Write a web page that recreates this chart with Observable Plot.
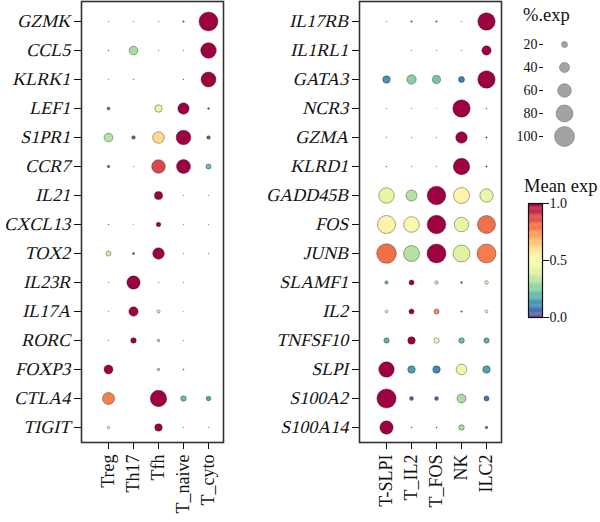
<!DOCTYPE html>
<html><head><meta charset="utf-8">
<script src="https://cdn.jsdelivr.net/npm/d3@7"></script>
<script src="https://cdn.jsdelivr.net/npm/@observablehq/plot@0.6"></script>
<style>
body{margin:0;background:#fff;}
#root{position:relative;width:600px;height:522px;overflow:hidden;font-family:"Liberation Serif",serif;color:#111;}
.pane{position:absolute;}
.title{position:absolute;font-size:18.5px;line-height:1;white-space:nowrap;color:#111;font-family:"Liberation Serif",serif;}
</style></head><body><div id="root"></div>
<script>
// ---- Left panel ----
const leftGenes = ["GZMK","CCL5","KLRK1","LEF1","S1PR1","CCR7","IL21","CXCL13","TOX2","IL23R","IL17A","RORC","FOXP3","CTLA4","TIGIT"];
const leftCells = ["Treg","Th17","Tfh","T_naive","T_cyto"];
const leftPct = [
  [1, 1, 1, 3, 93],
  [1.5, 32, 1, 1, 72],
  [1, 1.5, 0, 1.5, 68],
  [8, 0, 27, 47, 4],
  [33, 10, 48, 66, 10],
  [6, 1, 60, 62, 16],
  [0, 0, 30, 1, 1],
  [1.5, 0.5, 14, 1, 1],
  [16, 5, 48, 1, 1],
  [1, 58, 1, 1, 0],
  [1, 36, 8, 0.5, 0],
  [1, 18, 6, 1, 0],
  [34, 0, 6, 2, 0],
  [51, 0, 77, 18, 14],
  [6, 0, 27, 1, 1]
];
const leftMean = [
  [0.05, 0.3, 0.3, 0.05, 1],
  [0.05, 0.3, 0.1, 0.05, 1],
  [0.3, 0.4, 0, 0.1, 1],
  [0.08, 0, 0.42, 1, 0.05],
  [0.32, 0.04, 0.6, 1, 0.04],
  [0.05, 0.4, 0.88, 1, 0.2],
  [0, 0, 1, 0.4, 0.4],
  [0.1, 0.4, 1, 0.4, 0.2],
  [0.38, 0.05, 1, 0.2, 0.1],
  [0.1, 1, 0.4, 0.4, 0],
  [0.45, 1, 0.4, 0.3, 0],
  [0.05, 1, 0.3, 0.3, 0],
  [1, 0, 0.3, 0.1, 0],
  [0.77, 0, 1, 0.2, 0.15],
  [0.5, 0, 1, 0.1, 0.1]
];

// ---- Right panel ----
const rightGenes = ["IL17RB","IL1RL1","GATA3","NCR3","GZMA","KLRD1","GADD45B","FOS","JUNB","SLAMF1","IL2","TNFSF10","SLPI","S100A2","S100A14"];
const rightCells = ["T-SLPI","T_IL2","T_FOS","NK","ILC2"];
const rightPct = [
  [1, 3, 3, 1, 83],
  [0, 1, 1, 1, 36],
  [27, 36, 30, 20, 83],
  [1, 1, 0.5, 83, 2],
  [1, 1, 1, 48, 3],
  [1.5, 1, 1, 77, 3],
  [71, 45, 91, 74, 58],
  [87, 72, 91, 65, 87],
  [97, 74, 93, 80, 93],
  [9, 16, 9, 4, 10],
  [7, 16, 16, 3, 7],
  [17, 27, 17, 18, 17],
  [71, 27, 27, 43, 27],
  [95, 11, 11, 34, 16],
  [58, 2, 2, 18, 6]
];
const rightMean = [
  [0.4, 0.05, 0.05, 0.4, 1],
  [0, 0.1, 0.1, 0.3, 1],
  [0.12, 0.25, 0.22, 0.08, 1],
  [0.4, 0.4, 0.4, 1, 0.3],
  [0.1, 0.2, 0.2, 1, 0.05],
  [0.05, 0.3, 0.05, 1, 0.05],
  [0.42, 0.32, 1, 0.52, 0.43],
  [0.53, 0.47, 1, 0.42, 0.8],
  [0.8, 0.32, 1, 0.4, 0.78],
  [0.2, 1, 0.4, 0.1, 0.4],
  [0.5, 1, 0.75, 0.1, 0.5],
  [0.18, 1, 0.47, 0.2, 0.18],
  [1, 0.14, 0.1, 0.44, 0.15],
  [1, 0.03, 0.05, 0.3, 0.06],
  [1, 0.3, 0.05, 0.3, 0.05]
];

// ---- Legends ----
const sizeTicks = [20, 40, 60, 80, 100];
const colorTicks = [0, 0.5, 1];
const sizeTitle = "%.exp";
const colorTitle = "Mean exp";

const FONT = '"Liberation Serif", serif';
const rScale = {type: "pow", exponent: 0.75, domain: [0, 100], range: [0, 10]};
const colorScale = {type: "linear", scheme: "spectral", reverse: true, domain: [0, 1]};

function styleTexts(svg, selector, size, slant) {
  d3.select(svg).selectAll(selector).each(function() {
    this.style.fontFamily = FONT;
    this.style.fontSize = size + "px";
    this.style.fontStyle = "normal";
    if (slant) {
      const tr = this.getAttribute("transform") || "";
      this.setAttribute("transform", `${tr} skewX(-13)`);
    }
  });
}

function panel(genes, cells, pct, mean, width, ml, mr) {
  const data = genes.flatMap((g, i) => cells.map((c, j) => ({gene: g, cell: c, pct: pct[i][j], mean: mean[i][j]})));
  const svg = Plot.plot({
    width, height: 522,
    marginLeft: ml, marginRight: mr, marginTop: 1, marginBottom: 80,
    style: {background: "transparent", color: "#111", overflow: "visible"},
    x: {type: "point", domain: cells, padding: 0, insetLeft: 25.7, insetRight: 14.3, label: null},
    y: {type: "point", domain: genes, padding: 0, insetTop: 17.2, insetBottom: 12, label: null},
    r: rScale,
    color: colorScale,
    marks: [
      Plot.axisY({tickSize: 7, tickPadding: 3, fontSize: 18, label: null}),
      Plot.axisX({tickSize: 7, tickPadding: 5, fontSize: 18, tickRotate: -90, label: null}),
      Plot.dot(data, {x: "cell", y: "gene", r: "pct", fill: "mean", stroke: "#222", strokeWidth: 0.4}),
      Plot.frame({stroke: "#333", strokeWidth: 1.6})
    ]
  });
  styleTexts(svg, 'g[aria-label="y-axis tick label"] text', 18, true);
  styleTexts(svg, 'g[aria-label="x-axis tick label"] text', 18, false);
  return svg;
}

const root = document.getElementById("root");
function place(el, left, top) {
  el.classList.add("pane");
  el.style.left = left + "px";
  el.style.top = top + "px";
  root.appendChild(el);
}
place(panel(leftGenes, leftCells, leftPct, leftMean, 240, 81, 17), 0, 0);
place(panel(rightGenes, rightCells, rightPct, rightMean, 260, 109, 9), 250, 0);

// size legend
const sizeLegend = Plot.plot({
  width: 100, height: 150,
  marginLeft: 43, marginRight: 15, marginTop: 42.7, marginBottom: 13.3,
  style: {background: "transparent", color: "#111", overflow: "visible"},
  x: {axis: null},
  y: {type: "point", domain: sizeTicks, padding: 0, label: null},
  r: rScale,
  marks: [
    Plot.axisY({tickSize: 4, tickPadding: 2, fontSize: 14, label: null}),
    Plot.dot(sizeTicks, {y: d => d, r: d => d, fill: "#a3a3a3", stroke: "#666", strokeWidth: 0.5})
  ]
});
styleTexts(sizeLegend, 'g[aria-label="y-axis tick label"] text', 14, false);
place(sizeLegend, 500, 0);

// color bar
const stops = d3.range(0, 1, 0.01);
const colorBar = Plot.plot({
  width: 100, height: 130,
  marginLeft: 28, marginRight: 58, marginTop: 8, marginBottom: 8,
  style: {background: "transparent", color: "#111", overflow: "visible"},
  y: {domain: [0, 1], label: null},
  color: colorScale,
  marks: [
    Plot.rect(stops, {y1: d => d, y2: d => Math.min(1, d + 0.012), fill: d => d + 0.005}),
    Plot.frame({stroke: "#111", strokeWidth: 1.2}),
    Plot.axisY({anchor: "right", ticks: colorTicks, tickFormat: ".1f", tickSize: 6, tickPadding: 1, fontSize: 14, label: null})
  ]
});
styleTexts(colorBar, 'g[aria-label="y-axis tick label"] text', 14, false);
place(colorBar, 500, 195);

function title(txt, left, top) {
  const d = document.createElement("div");
  d.className = "title";
  d.textContent = txt;
  d.style.left = left + "px";
  d.style.top = top + "px";
  root.appendChild(d);
}
title(sizeTitle, 523, 6);
title(colorTitle, 524, 177);
</script>
</body></html>
